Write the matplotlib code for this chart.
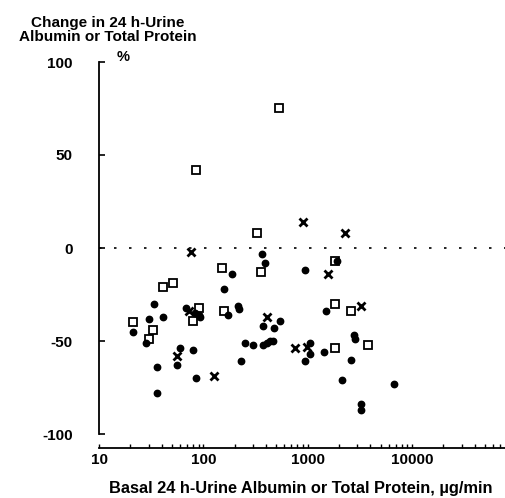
import matplotlib
matplotlib.use("Agg")
import matplotlib.pyplot as plt
from matplotlib.ticker import FixedLocator, LogLocator, NullFormatter, FixedFormatter

plt.rcParams['font.family'] = ['Liberation Sans', 'DejaVu Sans']
plt.rcParams['font.weight'] = 'bold'
plt.rcParams['axes.unicode_minus'] = False

# Filled circles
circ_x = [368, 390, 159, 34, 216, 219, 68, 83, 90, 93, 174, 41, 30, 21, 28, 60, 79, 36, 56, 86, 36,
          251, 298, 230, 371, 405, 436, 469, 375, 476, 543, 187, 944, 1930, 1500, 2790, 2870,
          1055, 1055, 944, 1446, 2590, 2150, 6730, 3230, 3230]
circ_y = [-3, -8, -22, -30, -31, -33, -32, -35, -36, -37, -36, -37, -38, -45, -51, -54, -55, -64, -63, -70, -78,
          -51, -52, -61, -52, -51, -50, -50, -42, -43, -39, -14, -12, -7, -34, -47, -49,
          -51, -57, -61, -56, -60, -71, -73, -84, -87]

# Open squares
sq_x = [530, 85, 330, 1830, 355, 152, 41, 51, 90, 79, 159, 21, 33, 30, 1830, 2590, 3820, 1830]
sq_y = [75, 42, 8, -7, -13, -11, -21, -19, -32, -39, -34, -40, -44, -49, -30, -34, -52, -54]

# Crosses
cr_x = [77, 910, 2300, 1560, 73, 56, 128, 405, 757, 980, 3230]
cr_y = [-2, 14, 8, -14, -34, -58, -69, -37, -54, -53, -31]

y_ticks = [-100, -50, 0, 50, 100]
y_tick_labels = ['-100', '-50', '0', '50', '100']
x_ticks = [10, 100, 1000, 10000]
x_tick_labels = ['10', '100', '1000', '10000']

W, H = 506, 498
fig = plt.figure(figsize=(W / 100, H / 100), dpi=100)
ax = fig.add_axes([99 / W, (H - 434) / H, (W - 99) / W, (434 - 62) / H])

ax.set_xscale('log')
ax.set_xlim(10, 10 ** (1 + 407 / 104.3))
ax.set_ylim(-100, 100)

ax.axhline(0, color='black', lw=1.2, ls=(0, (1.5, 7.5)), zorder=1)

ax.plot(circ_x, circ_y, 'o', color='black', ms=4.6, zorder=3, clip_on=False)
ax.plot(sq_x, sq_y, 's', mfc='white', mec='black', mew=1.3, ms=6.2, zorder=2, clip_on=False)
ax.plot(cr_x, cr_y, 'x', color='black', mew=2.0, ms=6, zorder=4, clip_on=False)

for s in ['top', 'right']:
    ax.spines[s].set_visible(False)
ax.spines['left'].set_linewidth(1.3)
ax.spines['bottom'].set_linewidth(1.3)
ax.spines['bottom'].set_position(('outward', 10))

ax.yaxis.set_major_locator(FixedLocator(y_ticks))
ax.yaxis.set_major_formatter(FixedFormatter(y_tick_labels))
ax.tick_params(axis='y', direction='in', length=4, width=1.2, pad=19, labelsize=11)
for lab in ax.get_yticklabels():
    lab.set_fontweight('bold')

ax.xaxis.set_major_locator(FixedLocator(x_ticks))
ax.xaxis.set_major_formatter(FixedFormatter(x_tick_labels))
ax.xaxis.set_minor_locator(LogLocator(base=10, subs=range(2, 10), numticks=20))
ax.xaxis.set_minor_formatter(NullFormatter())
ax.tick_params(axis='x', which='both', direction='in', length=3, width=1.0, pad=4, labelsize=11)
for lab in ax.get_xticklabels():
    lab.set_fontweight('bold')

fig.text(108 / W, 1 - 30 / H, 'Change in 24 h-Urine\nAlbumin or Total Protein', ha='center', va='center',
         fontsize=11, fontweight='bold', linespacing=0.95)
fig.text(123 / W, 1 - 57 / H, '%', ha='center', va='center', fontsize=10.5, fontweight='bold')
fig.text(301 / W, 1 - 488 / H, 'Basal 24 h-Urine Albumin or Total Protein, \u00b5g/min', ha='center', va='center',
         fontsize=11.8, fontweight='bold')

fig.savefig('out.png', dpi=100)
